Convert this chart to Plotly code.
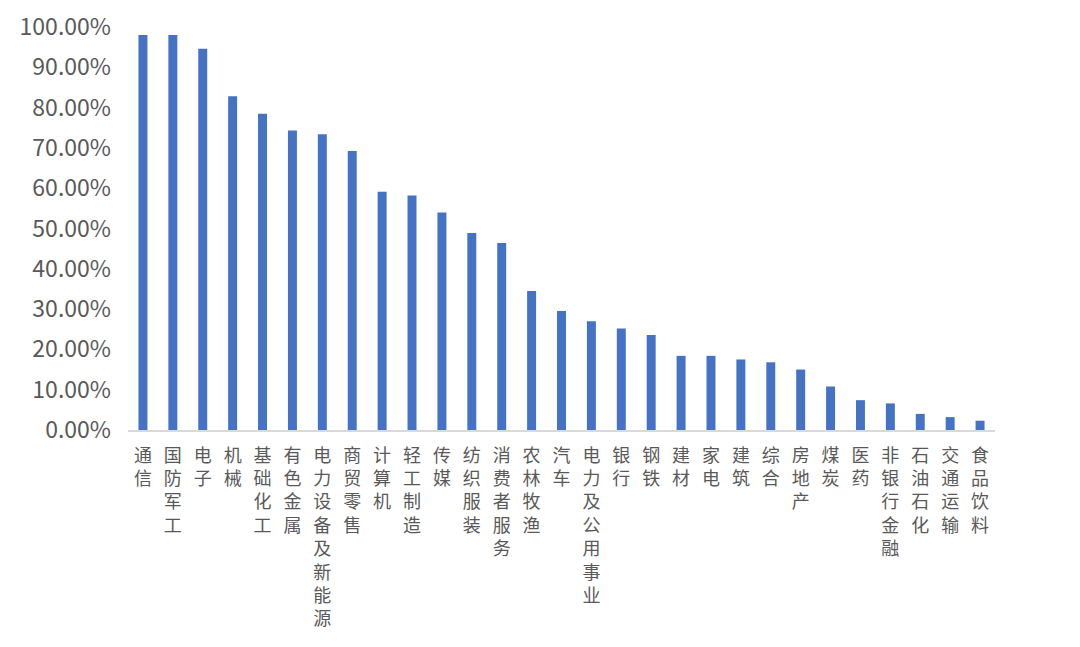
import plotly.graph_objects as go

categories = ["通信", "国防军工", "电子", "机械", "基础化工", "有色金属", "电力设备及新能源",
              "商贸零售", "计算机", "轻工制造", "传媒", "纺织服装", "消费者服务", "农林牧渔",
              "汽车", "电力及公用事业", "银行", "钢铁", "建材", "家电", "建筑", "综合",
              "房地产", "煤炭", "医药", "非银行金融", "石油石化", "交通运输", "食品饮料"]
values = [98.0, 98.0, 94.6, 82.8, 78.5, 74.3, 73.4, 69.2, 59.1, 58.2, 54.0, 48.9, 46.4,
          34.5, 29.5, 27.0, 25.2, 23.6, 18.4, 18.4, 17.5, 16.8, 15.0, 10.8, 7.4, 6.6,
          4.0, 3.2, 2.3]
y_ticks = [0, 10, 20, 30, 40, 50, 60, 70, 80, 90, 100]
y_tick_labels = [f"{v:.2f}%" for v in y_ticks]

vertical_labels = ["<br>".join(list(c)) for c in categories]

fig = go.Figure(go.Bar(
    x=categories, y=values,
    marker=dict(color="#4472C4", line=dict(width=0)),
))

fig.update_layout(
    width=1072, height=639,
    margin=dict(l=120, r=85, t=19, b=217),
    paper_bgcolor="white", plot_bgcolor="white",
    bargap=0.7,
    showlegend=False,
    font=dict(family="Noto Sans CJK SC", color="#595959"),
)
fig.update_xaxes(
    tickmode="array", tickvals=categories, ticktext=vertical_labels,
    tickangle=0, tickfont=dict(size=18, color="#595959"),
    showline=True, linecolor="#d9d9d9", linewidth=2,
    showgrid=False, ticks="", ticklabelstandoff=8, automargin=False,
)
fig.update_yaxes(
    range=[0, 100], tickmode="array", tickvals=y_ticks, ticktext=y_tick_labels,
    tickfont=dict(size=23, color="#595959"),
    showgrid=False, zeroline=False, showline=False, ticks="",
    ticklabelstandoff=16, automargin=False,
)

fig.write_html("out.html")
